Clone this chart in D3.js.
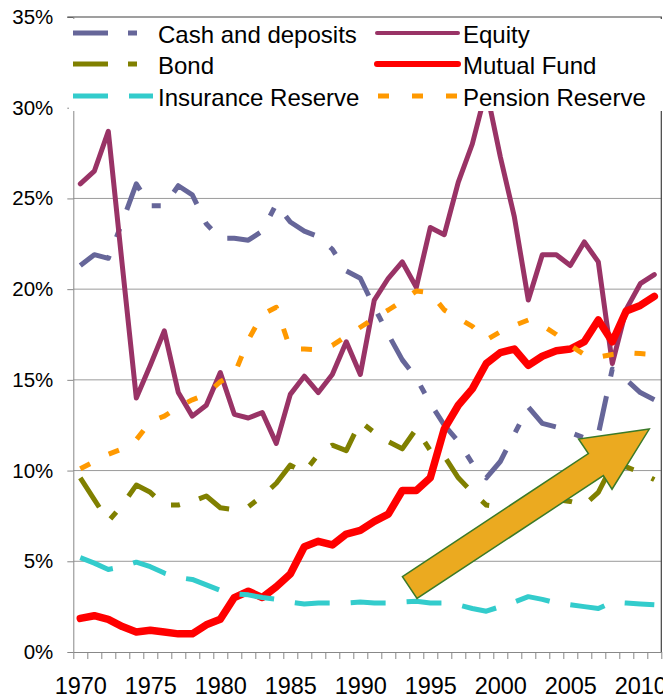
<!DOCTYPE html>
<html>
<head>
<meta charset="utf-8">
<script src="https://cdn.jsdelivr.net/npm/d3@7"></script>
<style>
  body { margin: 0; background: #fff; }
  svg text { font-family: "Liberation Sans", Arial, sans-serif; fill: #000; }
</style>
</head>
<body>
<div id="container"></div>
<script>
/* CONSTANTS AND GLOBALS */
const width = 663,
  height = 699,
  margin = { top: 17, bottom: 47, left: 73.3, right: 1.7 };

/* DATA (share of household financial assets, %) */
const years = d3.range(1970, 2012);
const yTicks = [0, 5, 10, 15, 20, 25, 30, 35];
const yearLabels = [1970, 1975, 1980, 1985, 1990, 1995, 2000, 2005, 2010];

const seriesNames = ["Cash and deposits", "Equity", "Bond", "Mutual Fund", "Insurance Reserve", "Pension Reserve"];

const cash = [21.3, 21.9, 21.7, 23.7, 25.8, 24.6, 24.6, 25.7, 25.2, 23.6,
  22.8, 22.8, 22.7, 23.2, 24.7, 23.7, 23.2, 22.9, 22.2, 21.0,
  20.6, 19.0, 17.5, 16.1, 15.1, 13.7, 12.5, 11.6, 10.4, 9.6,
  10.5, 12.0, 13.5, 12.6, 12.4, 12.1, 11.8, 12.0, 15.6, 15.0,
  14.3, 13.9];
const equity = [25.8, 26.5, 28.7, 21.3, 14.0, 15.8, 17.7, 14.3, 13.0, 13.6,
  15.4, 13.1, 12.9, 13.2, 11.5, 14.2, 15.2, 14.3, 15.3, 17.1,
  15.3, 19.4, 20.6, 21.5, 20.1, 23.4, 23.0, 25.9, 28.0, 31.0,
  27.3, 24.0, 19.4, 21.9, 21.9, 21.3, 22.6, 21.5, 15.9, 18.9,
  20.3, 20.8];
const bond = [9.6, 8.4, 7.2, 8.1, 9.2, 8.8, 8.1, 8.1, 8.3, 8.6,
  7.95, 7.85, 8.0, 8.6, 9.3, 10.3, 9.9, 10.9, 11.4, 11.1,
  12.7, 12.1, 11.6, 11.2, 12.3, 11.1, 10.8, 9.6, 8.8, 8.1,
  8.0, 7.95, 8.1, 8.3, 8.4, 8.3, 8.1, 8.8, 10.3, 10.2,
  9.9, 9.5];
const mutualFund = [1.85, 2.0, 1.8, 1.4, 1.1, 1.2, 1.1, 1.0, 1.0, 1.5,
  1.8, 3.0, 3.35, 3.0, 3.6, 4.3, 5.8, 6.1, 5.9, 6.5,
  6.7, 7.2, 7.6, 8.9, 8.9, 9.6, 12.3, 13.6, 14.5, 15.9,
  16.5, 16.7, 15.8, 16.3, 16.6, 16.7, 17.1, 18.3, 17.1, 18.8,
  19.1, 19.6];
const insurance = [5.2, 4.9, 4.55, 4.7, 4.95, 4.7, 4.35, 4.1, 4.0, 3.7,
  3.4, 3.2, 3.15, 3.0, 2.9, 2.75, 2.65, 2.7, 2.7, 2.7,
  2.75, 2.7, 2.7, 2.75, 2.8, 2.7, 2.7, 2.6, 2.4, 2.25,
  2.5, 2.75, 3.05, 2.9, 2.7, 2.6, 2.5, 2.4, 2.75, 2.7,
  2.65, 2.6];
const pension = [10.1, 10.5, 10.9, 11.2, 11.7, 12.7, 13.0, 13.5, 13.9, 14.2,
  14.9, 15.3, 17.2, 18.6, 19.0, 16.7, 16.7, 16.65, 16.9, 17.4,
  17.9, 18.4, 18.85, 19.35, 19.9, 19.8, 18.85, 18.4, 17.95, 17.2,
  17.65, 18.0, 18.3, 18.0, 17.5, 16.9, 16.4, 16.25, 16.4, 16.5,
  16.45, 16.4];

// annotation arrow outline, in [year, %]
const arrowPts = [[1993.01, 4.15], [2006.29, 10.94], [2005.59, 11.74], [2010.64, 12.29],
  [2007.98, 8.97], [2007.36, 9.72], [1994.05, 2.95]];

/* STYLES */
const styles = [
  { color: "#666699", w: 5, dash: "35,20,9,20" },
  { color: "#993366", w: 5, dash: null },
  { color: "#808000", w: 5, dash: "35,20,9,20" },
  { color: "#ff0000", w: 7.5, dash: null },
  { color: "#33cccc", w: 5, dash: "35,21" },
  { color: "#ff9900", w: 5, dash: "11,21" }
];
const allValues = [cash, equity, bond, mutualFund, insurance, pension];
const series = seriesNames.map((name, i) => ({
  name, ...styles[i],
  values: allValues[i].map((v, j) => ({ year: years[j], v }))
}));

/* SCALES */
const xScale = d3.scaleLinear()
  .domain([1969.5, 2011.5])
  .range([margin.left, width - margin.right]);
const yScale = d3.scaleLinear()
  .domain([0, 35])
  .range([height - margin.bottom, margin.top]);

/* SVG */
const svg = d3.select("#container")
  .append("svg")
  .attr("width", width)
  .attr("height", height);

// gridlines
svg.append("g")
  .selectAll("line")
  .data(yTicks.filter(d => d > 0 && d < 35))
  .join("line")
  .attr("x1", margin.left).attr("x2", width - margin.right)
  .attr("y1", d => yScale(d)).attr("y2", d => yScale(d))
  .attr("stroke", "#9a9a9a").attr("stroke-width", 1);

// y axis
const yAxis = d3.axisLeft(yScale)
  .tickValues(yTicks)
  .tickFormat(d => d + "%")
  .tickSize(6)
  .tickSizeOuter(0)
  .tickPadding(14);
const gy = svg.append("g")
  .attr("transform", `translate(${margin.left},0)`)
  .call(yAxis);
gy.select(".domain").attr("stroke", "#888");
gy.selectAll(".tick line").attr("stroke", "#888");
gy.selectAll("text").attr("font-size", 20.5).attr("font-family", "Liberation Sans, Arial, sans-serif");

// x axis: ticks at category boundaries
const xTickAxis = d3.axisBottom(xScale)
  .tickValues(d3.range(1969.5, 2012, 1))
  .tickFormat("")
  .tickSize(7)
  .tickSizeOuter(0);
const gx = svg.append("g")
  .attr("transform", `translate(0,${height - margin.bottom})`)
  .call(xTickAxis);
gx.select(".domain").attr("stroke", "#888");
gx.selectAll(".tick line").attr("stroke", "#888");

// x labels
const xLabelAxis = d3.axisBottom(xScale)
  .tickValues(yearLabels)
  .tickFormat(d3.format("d"))
  .tickSize(0)
  .tickPadding(25);
const gxl = svg.append("g")
  .attr("transform", `translate(0,${height - margin.bottom})`)
  .call(xLabelAxis);
gxl.select(".domain").remove();
gxl.selectAll("text").attr("font-size", 23.5).attr("font-family", "Liberation Sans, Arial, sans-serif");

// plot border (top and right)
svg.append("path")
  .attr("d", `M${margin.left - 6},${margin.top}H${width - margin.right}V${height - margin.bottom}`)
  .attr("fill", "none")
  .attr("stroke", "#404040")
  .attr("stroke-width", 1.2);

// lines
const line = d3.line()
  .x(d => xScale(d.year))
  .y(d => yScale(d.v));

svg.append("g")
  .selectAll("path")
  .data(series)
  .join("path")
  .attr("d", d => line(d.values))
  .attr("fill", "none")
  .attr("stroke", d => d.color)
  .attr("stroke-width", d => d.w)
  .attr("stroke-dasharray", d => d.dash)
  .attr("stroke-linejoin", "round")
  .attr("stroke-linecap", d => d.dash ? "butt" : "round");

// arrow annotation
svg.append("path")
  .attr("d", d3.line().x(d => xScale(d[0])).y(d => yScale(d[1]))(arrowPts) + "Z")
  .attr("fill", "#ebaa20")
  .attr("stroke", "#3b7a28")
  .attr("stroke-width", 1.5)
  .attr("stroke-linejoin", "miter");

// legend
const legend = svg.append("g");
legend.append("rect")
  .attr("x", 69).attr("y", 19)
  .attr("width", width - 69).attr("height", 92)
  .attr("fill", "#fff");

const colX = [[73, 153, 158], [375, 460, 463]];
const rowY = [33, 64, 96];
const items = legend.selectAll("g.item")
  .data(series)
  .join("g")
  .attr("class", "item")
  .attr("transform", (d, i) => `translate(0,${rowY[Math.floor(i / 2)]})`);

items.append("line")
  .attr("x1", (d, i) => colX[i % 2][0] + (d.dash ? 0 : 2))
  .attr("x2", (d, i) => colX[i % 2][1] - (d.dash ? 0 : 2))
  .attr("stroke", d => d.color)
  .attr("stroke-width", d => d.dash ? 5 : (d.w > 6 ? 6 : 4))
  .attr("stroke-dasharray", d => d.dash === "11,21" ? "0,3,11,20" : d.dash)
  .attr("stroke-linecap", d => d.dash ? "butt" : "round");

items.append("text")
  .attr("x", (d, i) => colX[i % 2][2])
  .attr("y", 9.5)
  .attr("font-size", 24)
  .text(d => d.name);
</script>
</body>
</html>
